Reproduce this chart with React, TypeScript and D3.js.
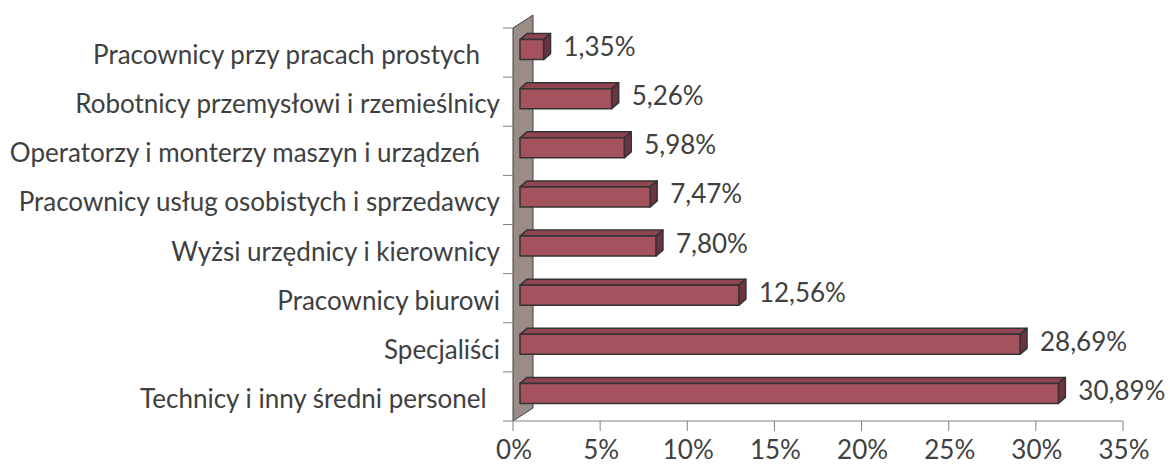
import React from "react";
import * as d3 from "d3";

const categories = [
  "Pracownicy przy pracach prostych   ",
  "Robotnicy przemysłowi i rzemieślnicy",
  "Operatorzy i monterzy maszyn i urządzeń   ",
  "Pracownicy usług osobistych i sprzedawcy",
  "Wyżsi urzędnicy i kierownicy",
  "Pracownicy biurowi",
  "Specjaliści",
  "Technicy i inny średni personel  ",
];
const values = [1.35, 5.26, 5.98, 7.47, 7.8, 12.56, 28.69, 30.89];
const valueLabels = ["1,35%", "5,26%", "5,98%", "7,47%", "7,80%", "12,56%", "28,69%", "30,89%"];
const xTicks = [0, 5, 10, 15, 20, 25, 30, 35];

const W = 1170;
const H = 465;
const FONT = "Lato, 'Open Sans', sans-serif";
const TEXT = "#404040";
const FS = 26;

export default function App() {
  const x = d3.scaleLinear().domain([0, 35]).range([513, 1123]);
  const y = d3.scaleBand<string>().domain(categories).range([28, 421]).padding(0);
  const wallDx = 20, wallDy = -13;
  const frontDx = 7, frontDy = -3;
  const depthDx = 7, depthDy = -6;
  const barH = 20;
  const [x0, x1] = x.range();
  const [yTop, yBot] = y.range();

  return (
    <svg width={W} height={H} style={{ position: "absolute", left: 0, top: 0 }} fontFamily={FONT}>
      <rect width={W} height={H} fill="#fff" />
      {/* wall */}
      <polygon
        points={`${x0},${yTop} ${x0 + wallDx},${yTop + wallDy} ${x0 + wallDx},${yBot + wallDy} ${x0},${yBot}`}
        fill="#9b8c87"
        stroke="#404040"
        strokeWidth={1}
      />
      {/* category axis ticks */}
      {[...categories.map((c) => y(c)!), yBot].map((t, i) => (
        <line key={i} x1={x0 - 10} x2={x0} y1={t} y2={t} stroke="#808080" strokeWidth={1} />
      ))}
      {/* x axis */}
      <line x1={x0} x2={x1} y1={yBot} y2={yBot} stroke="#808080" strokeWidth={1} />
      {xTicks.map((t) => (
        <g key={t}>
          <line x1={x(t)} x2={x(t)} y1={yBot} y2={yBot + 10} stroke="#808080" strokeWidth={1} />
          <text x={x(t) + 1} y={yBot + 38} textAnchor="middle" fontSize={FS} fill={TEXT}>
            {t}%
          </text>
        </g>
      ))}
      {/* category labels */}
      {categories.map((c) => (
        <text
          key={c}
          x={500}
          y={y(c)! + y.bandwidth() / 2 + 11.5}
          textAnchor="end"
          fontSize={FS}
          fill={TEXT}
          style={{ whiteSpace: "pre" }}
          xmlSpace="preserve"
        >
          {c}
        </text>
      ))}
      {/* bars */}
      {categories.map((c, i) => {
        const cy = y(c)! + y.bandwidth() / 2 + frontDy;
        const fx0 = x(0) + frontDx;
        const fx1 = x(values[i]) + frontDx;
        const fy0 = cy - barH / 2;
        const fy1 = cy + barH / 2;
        return (
          <g key={c} stroke="#333" strokeWidth={1.5} strokeLinejoin="round">
            <polygon
              points={`${fx0},${fy0} ${fx0 + depthDx},${fy0 + depthDy} ${fx1 + depthDx},${fy0 + depthDy} ${fx1},${fy0}`}
              fill="#8f4452"
            />
            <polygon
              points={`${fx1},${fy0} ${fx1 + depthDx},${fy0 + depthDy} ${fx1 + depthDx},${fy1 + depthDy} ${fx1},${fy1}`}
              fill="#6d3340"
            />
            <rect x={fx0} y={fy0} width={fx1 - fx0} height={barH} fill="#a5525f" />
            <text x={fx1 + depthDx + 13} y={cy + 6.5} fontSize={FS} fill={TEXT} stroke="none">
              {valueLabels[i]}
            </text>
          </g>
        );
      })}
    </svg>
  );
}
